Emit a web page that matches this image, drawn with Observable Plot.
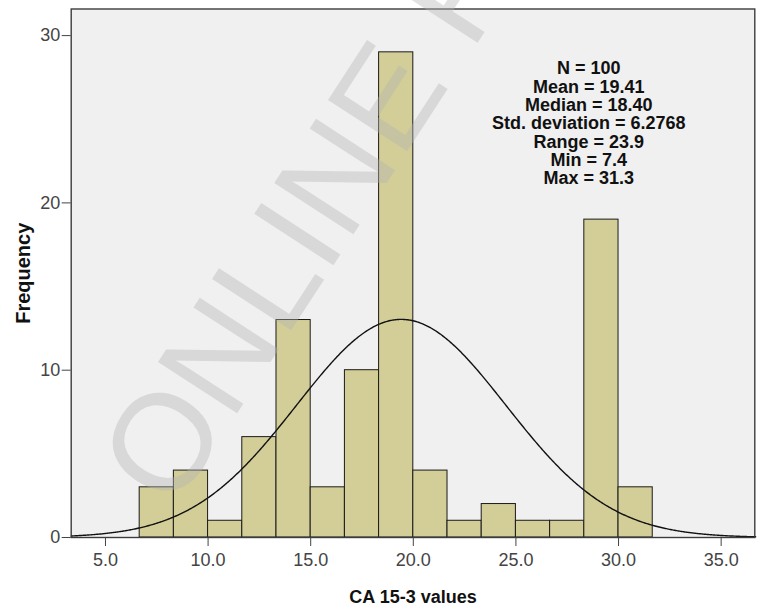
<!DOCTYPE html>
<html><head><meta charset="utf-8">
<script src="https://cdn.jsdelivr.net/npm/d3@7"></script>
<script src="https://cdn.jsdelivr.net/npm/@observablehq/plot@0.6"></script>
<style>body{margin:0;background:#fff;}</style>
</head><body><div id="chart"></div>
<script>
// Histogram bins (lower edges), width and frequencies
const binLower = [6.667, 8.333, 10.0, 11.667, 13.333, 15.0, 16.667, 18.333, 20.0, 21.667, 23.333, 25.0, 26.667, 28.333, 30.0];
const binWidth = 1.6667;
const counts = [3, 4, 1, 6, 13, 3, 10, 29, 4, 1, 2, 1, 1, 19, 3];
const xTicks = [5, 10, 15, 20, 25, 30, 35];
const yTicks = [0, 10, 20, 30];
const statLines = ["N = 100", "Mean = 19.41", "Median = 18.40", "Std. deviation = 6.2768", "Range = 23.9", "Min = 7.4", "Max = 31.3"];
// Normal curve parameters (as drawn)
const curveN = 100;
const curveMean = 19.41;
const curveSd = 5.1;
const xDomain = [3.33, 36.64];
const yDomain = [0, 31.59];

const bins = binLower.map((x1, i) => ({x1, x2: x1 + binWidth, count: counts[i]}));
const curve = d3.range(xDomain[0], xDomain[1] + 0.05, 0.05).map(x => ({
  x,
  y: curveN * binWidth * Math.exp(-0.5 * ((x - curveMean) / curveSd) ** 2) / (curveSd * Math.sqrt(2 * Math.PI))
}));

const chart = Plot.plot({
  width: 759, height: 609,
  marginLeft: 70.7, marginRight: 4.7, marginTop: 8.5, marginBottom: 72,
  style: {fontFamily: "'Liberation Sans', Arial, sans-serif", background: "#fff", overflow: "visible"},
  x: {domain: xDomain},
  y: {domain: yDomain},
  marks: [
    Plot.frame({fill: "#f0f0f0"}),
    Plot.rect(bins, {x1: "x1", x2: "x2", y1: 0, y2: "count", fill: "#d3ce97", stroke: "#1a1a1a", strokeWidth: 1}),
    Plot.line(curve, {x: "x", y: "y", stroke: "#111", strokeWidth: 1.4}),
    Plot.frame({stroke: "#3c3c3c", strokeWidth: 1.4}),
    Plot.axisX({ticks: xTicks, tickFormat: d3.format(".1f"), tickSize: 9, tickPadding: 7, fontSize: 18, color: "#444", label: null}),
    Plot.axisY({ticks: yTicks, tickSize: 9, tickPadding: 2, fontSize: 18, color: "#444", label: null}),
    Plot.text([statLines.join("\n")], {frameAnchor: "top", dx: 175.8, dy: 52.2, lineAnchor: "top", lineHeight: 1.02, fontSize: 18, fontWeight: "bold", fill: "#111"}),
    Plot.text(["CA 15-3 values"], {frameAnchor: "bottom", dy: 52.3, lineAnchor: "top", fontSize: 18, fontWeight: "bold", fill: "#111"}),
    Plot.text(["Frequency"], {frameAnchor: "left", textAnchor: "middle", dx: -55.7, rotate: -90, lineAnchor: "top", fontSize: 20, fontWeight: "bold", fill: "#111"})
  ]
});

// Faded watermark overlay
d3.select(chart).append("text")
  .attr("transform", "translate(173,512) rotate(-57)")
  .attr("text-anchor", "start")
  .attr("font-size", 137)
  .attr("fill", "#b4b4b4")
  .attr("fill-opacity", 0.4)
  .text("ONLINE F");

document.getElementById("chart").appendChild(chart);
</script>
</body></html>
